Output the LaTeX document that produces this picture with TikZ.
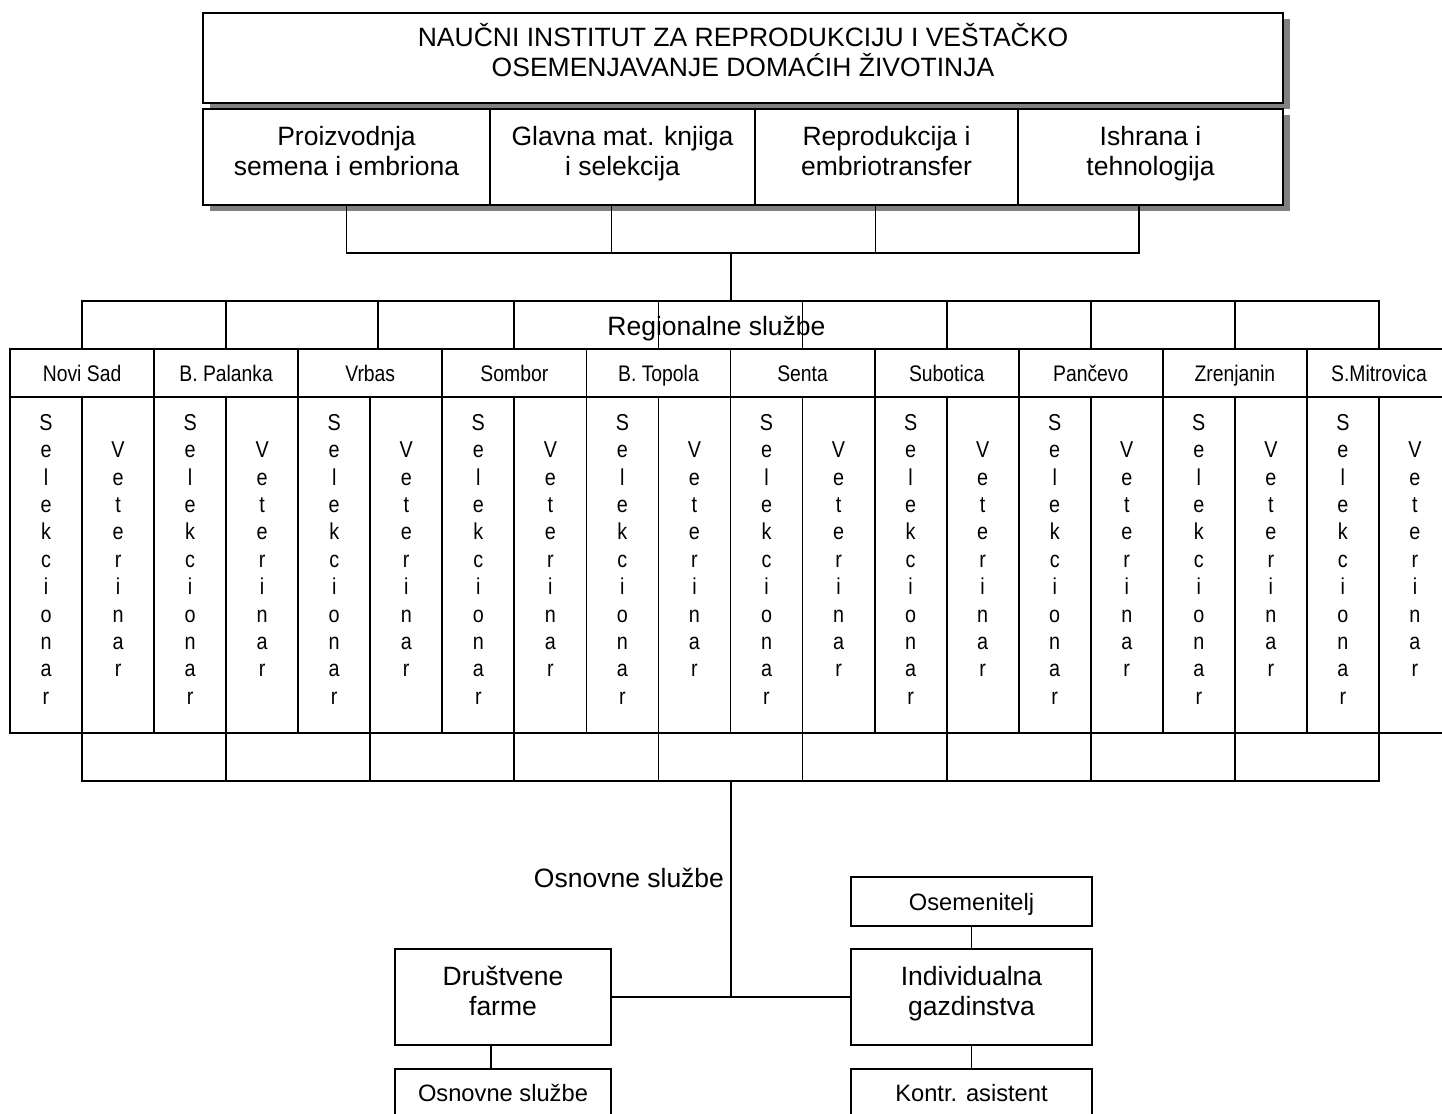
\documentclass[tikz,border=0pt]{standalone}
\usepackage{fontspec}
\setmainfont{Liberation Sans}
\newfontfamily\narrowfont{Liberation Sans}[FakeStretch=0.86]
\usetikzlibrary{shadows}
\newcommand\mybigfont{\fontsize{26.5}{30.5}\selectfont}
\newcommand\mysmallfont{\fontsize{23.7}{27}\selectfont}
\newcommand\mycityfont{\narrowfont\fontsize{22.5}{26}\selectfont}
\newcommand\myletterfont{\narrowfont\fontsize{23}{27.4}\selectfont}
\begin{document}
\begin{tikzpicture}[x=1pt,y=-1pt,
  ln/.style={line width=1.8pt},
  box/.style={draw, line width=1.8pt, fill=white, inner sep=0pt, outer sep=0pt, align=center},
  shad/.style={drop shadow={shadow xshift=7pt, shadow yshift=-6pt, fill=black!50, opacity=1}},
  twoline/.style={box, font=\mybigfont, text height=49.5pt, text depth=12pt},
  cityname/.style={box, font=\mycityfont, text height=16.1pt, text depth=0pt, minimum width=144.1pt, minimum height=48pt},
  selcol/.style={box, font=\myletterfont, text height=290.5pt, text depth=12pt, minimum width=72.05pt, minimum height=336pt},
  vetcol/.style={box, font=\myletterfont, text height=235.7pt, text depth=12pt, minimum width=72.05pt, minimum height=336pt},
  smallbox/.style={box, font=\mysmallfont, text height=17pt, text depth=0pt},
  lbl/.style={inner sep=0pt, outer sep=0pt, font=\mybigfont}
]
\useasboundingbox (0,0) rectangle (1442,1113);
\fill[white] (0,0) rectangle (1442,1113);
\clip (0,0) rectangle (1442,1113);

% top
\node[twoline, shad, minimum width=1080pt, minimum height=90pt] (title) at (743,58)
  {NAUČNI INSTITUT ZA REPRODUKCIJU I VEŠTAČKO\\OSEMENJAVANJE DOMAĆIH ŽIVOTINJA};
\node[twoline, shad, minimum width=287pt, minimum height=96pt] (d1) at (346.5,157) {Proizvodnja\\semena i embriona};
\node[twoline, shad, minimum width=265pt, minimum height=96pt] (d2) at (622.5,157) {Glavna mat. knjiga\\i selekcija};
\node[twoline, shad, minimum width=263pt, minimum height=96pt] (d3) at (886.5,157) {Reprodukcija i\\embriotransfer};
\node[twoline, shad, minimum width=265pt, minimum height=96pt] (d4) at (1150.5,157) {Ishrana i\\tehnologija};

\coordinate (topjoin) at (731,253);
\coordinate (regjoin) at (731,301);
\coordinate (lowjoin) at (731,781);
\coordinate (farmjoin) at (731,997);

\draw[ln] (d1.south) |- (topjoin);
\draw[ln] ([xshift=-11pt]d2.south) |- (topjoin);
\draw[ln] ([xshift=-11pt]d3.south) |- (topjoin);
\draw[ln] ([xshift=-11.5pt]d4.south) |- (topjoin);
\draw[ln] (topjoin) -- (regjoin);

% regional services
\foreach \n/\nm in {1/Novi Sad, 2/B. Palanka, 3/Vrbas, 4/Sombor, 5/B. Topola, 6/Senta, 7/Subotica, 8/Pančevo, 9/Zrenjanin, 10/S.Mitrovica} {
  \pgfmathsetmacro\cx{10+144.1*(\n-1)+72.05}
  \node[cityname] (c\n) at (\cx,373) {\nm};
  \node[selcol] (s\n) at (\cx-36.025,565) {S\\e\\l\\e\\k\\c\\i\\o\\n\\a\\r};
  \node[vetcol] (v\n) at (\cx+36.025,565) {V\\e\\t\\e\\r\\i\\n\\a\\r};
}
\foreach \n in {1,2,4,5,6,7,8,9,10} {
  \draw[ln] (regjoin) -| (c\n.north);
}
\draw[ln] (regjoin) -| ([xshift=8pt]c3.north);
\foreach \n in {1,...,10} {
  \draw[ln] (s\n.south east) |- (lowjoin);
}
\draw[ln] (lowjoin) -- (farmjoin);

% basic services
\node[twoline, minimum width=216pt, minimum height=96pt] (drus) at (503,997) {Društvene\\farme};
\node[twoline, minimum width=241pt, minimum height=96pt] (indiv) at (971.5,997) {Individualna\\gazdinstva};
\node[smallbox, minimum width=241pt, minimum height=49pt] (osem) at (971.5,901.5) {Osemenitelj};
\node[smallbox, minimum width=216pt, minimum height=48pt] (osn) at (503,1093) {Osnovne službe};
\node[smallbox, minimum width=241pt, minimum height=48pt] (kontr) at (971.5,1093) {Kontr. asistent};

\draw[ln] (drus.east) -- (indiv.west);
\draw[ln] (osem.south) -- (indiv.north);
\draw[ln] (indiv.south) -- (kontr.north);
\draw[ln] ([xshift=-12pt]drus.south) -- ([xshift=-12pt]osn.north);

% labels
\node[lbl, anchor=base] (reglbl) at (716.5,335) {Regionalne službe};
\node[lbl, anchor=base east] (osnlbl) at (724,887) {Osnovne službe};
\end{tikzpicture}
\end{document}
